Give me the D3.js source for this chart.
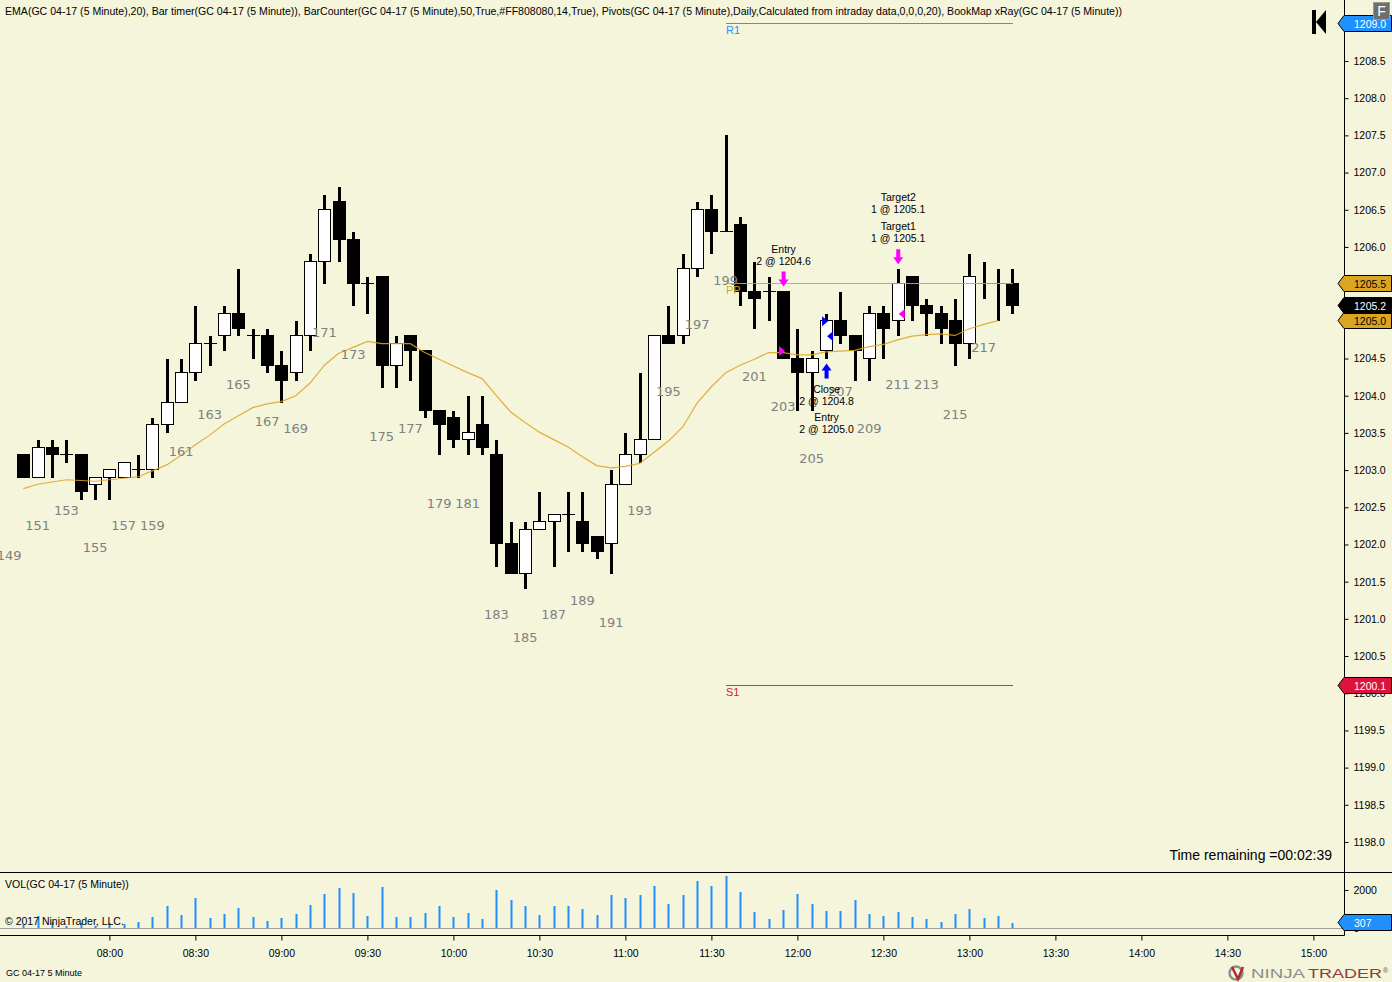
<!DOCTYPE html>
<html>
<head>
<meta charset="utf-8">
<title>GC 04-17 5 Minute</title>
<script src="https://cdn.jsdelivr.net/npm/d3@7/dist/d3.min.js"></script>
<style>
  html, body { margin: 0; padding: 0; background: #f5f5dc; overflow: hidden; }
  svg { display: block; }
  text { font-family: "Liberation Sans", Arial, sans-serif; fill: #000; }
</style>
</head>
<body>
<svg id="chart" width="1392" height="982"></svg>
<script>
(function () {
  'use strict';

  /* ── DATA ─────────────────────────────────────────────── */
  var firstBar = 150;   // bar counter of the first candle, 07:30
  var barOpen = [
    1203.2, 1202.9, 1203.3, 1203.2, 1203.2, 1202.8, 1202.9, 1202.9, 1203.0, 1203.0,
    1203.6, 1203.9, 1204.3, 1204.7, 1204.8, 1205.1, 1204.8, 1204.8, 1204.4, 1204.3,
    1204.8, 1205.8, 1206.6, 1206.1, 1205.5, 1205.6, 1204.4, 1204.8, 1204.6, 1203.8,
    1203.7, 1203.4, 1203.6, 1203.2, 1202.0, 1201.6, 1202.2, 1202.3, 1202.4, 1202.3,
    1202.1, 1202.0, 1202.8, 1203.2, 1203.4, 1204.8, 1204.8, 1205.7, 1206.5, 1206.2,
    1206.3, 1205.4, 1205.4, 1205.4, 1204.5, 1204.3, 1204.6, 1205.0, 1204.8, 1204.5,
    1205.1, 1205.0, 1205.6, 1205.2, 1205.1, 1205.0, 1204.7, 1205.5, 1205.5, 1205.5
  ];
  var barHigh = [
    1203.2, 1203.4, 1203.4, 1203.4, 1203.2, 1202.9, 1203.0, 1203.1, 1203.2, 1203.7,
    1204.5, 1204.5, 1205.2, 1204.8, 1205.2, 1205.7, 1204.9, 1204.9, 1204.6, 1205.0,
    1205.9, 1206.7, 1206.8, 1206.2, 1205.6, 1205.6, 1204.8, 1204.8, 1204.6, 1203.8,
    1203.8, 1204.0, 1204.0, 1203.4, 1202.3, 1202.3, 1202.7, 1202.4, 1202.7, 1202.7,
    1202.1, 1203.0, 1203.5, 1204.3, 1204.8, 1205.2, 1205.9, 1206.6, 1206.7, 1207.5,
    1206.4, 1205.8, 1205.6, 1205.4, 1204.9, 1204.6, 1205.1, 1205.4, 1204.8, 1205.2,
    1205.2, 1205.7, 1205.6, 1205.3, 1205.2, 1205.3, 1205.9, 1205.8, 1205.7, 1205.7
  ];
  var barLow = [
    1202.9, 1202.9, 1202.9, 1203.1, 1202.6, 1202.6, 1202.6, 1202.9, 1202.9, 1202.9,
    1203.5, 1203.9, 1204.2, 1204.4, 1204.6, 1204.8, 1204.5, 1204.3, 1203.9, 1204.2,
    1204.6, 1205.5, 1205.8, 1205.2, 1205.1, 1204.1, 1204.1, 1204.2, 1203.7, 1203.2,
    1203.3, 1203.2, 1203.2, 1201.7, 1201.6, 1201.4, 1202.2, 1201.7, 1201.9, 1201.9,
    1201.8, 1201.6, 1202.8, 1203.1, 1203.4, 1204.7, 1204.7, 1205.6, 1205.9, 1206.2,
    1205.2, 1204.9, 1205.0, 1204.5, 1203.8, 1203.8, 1204.5, 1204.7, 1204.2, 1204.2,
    1204.5, 1204.8, 1205.0, 1204.8, 1204.7, 1204.4, 1204.5, 1205.3, 1205.0, 1205.1
  ];
  var barClose = [
    1202.9, 1203.3, 1203.2, 1203.2, 1202.7, 1202.9, 1203.0, 1203.1, 1203.0, 1203.6,
    1203.9, 1204.3, 1204.7, 1204.7, 1205.1, 1204.9, 1204.8, 1204.4, 1204.2, 1204.8,
    1205.8, 1206.5, 1206.1, 1205.5, 1205.5, 1204.4, 1204.7, 1204.6, 1203.8, 1203.6,
    1203.4, 1203.5, 1203.3, 1202.0, 1201.6, 1202.2, 1202.3, 1202.4, 1202.4, 1202.0,
    1201.9, 1202.8, 1203.2, 1203.4, 1204.8, 1204.7, 1205.7, 1206.5, 1206.2, 1206.2,
    1205.4, 1205.3, 1205.4, 1204.5, 1204.3, 1204.5, 1205.0, 1204.8, 1204.6, 1205.1,
    1204.9, 1205.5, 1205.2, 1205.1, 1204.9, 1204.7, 1205.6, 1205.5, 1205.5, 1205.2
  ];
  // EMA(20), one value per bar, stops one bar before the forming one
  var emaValues = [
    1202.75, 1202.81, 1202.84, 1202.87, 1202.86, 1202.85, 1202.87, 1202.89, 1202.91, 1202.99,
    1203.07, 1203.20, 1203.34, 1203.47, 1203.62, 1203.73, 1203.84, 1203.89, 1203.92, 1204.00,
    1204.17, 1204.41, 1204.57, 1204.65, 1204.73, 1204.70, 1204.70, 1204.70, 1204.58, 1204.49,
    1204.40, 1204.31, 1204.23, 1204.00, 1203.78, 1203.64, 1203.51, 1203.41, 1203.31, 1203.18,
    1203.06, 1203.03, 1203.05, 1203.09, 1203.24, 1203.39, 1203.58, 1203.90, 1204.12, 1204.31,
    1204.41, 1204.49, 1204.58, 1204.58, 1204.55, 1204.55, 1204.59, 1204.60, 1204.61, 1204.66,
    1204.69, 1204.75, 1204.80, 1204.82, 1204.83, 1204.81, 1204.90, 1204.96, 1205.01
  ];
  var volumeValues = [
    174, 644, 348, 122, 261, 122, 261, 226, 331, 592,
    1166, 696, 1583, 539, 748, 1061, 592, 383, 539, 748,
    1218, 1792, 2105, 1844, 644, 2158, 592, 592, 800, 1166,
    592, 800, 487, 2001, 1479, 1166, 696, 1166, 1166, 1009,
    696, 1740, 1583, 1740, 2210, 1270, 1740, 2471, 2210, 2732,
    1897, 853, 487, 957, 1792, 1270, 905, 905, 1479, 748,
    644, 853, 592, 487, 331, 748, 1009, 539, 644, 307
  ];
  var priceTicks = [1198, 1198.5, 1199, 1199.5, 1200, 1200.5, 1201, 1201.5, 1202, 1202.5, 1203, 1203.5,
    1204, 1204.5, 1205, 1205.5, 1206, 1206.5, 1207, 1207.5, 1208, 1208.5, 1209];
  var volumeTicks = [0, 2000];

  // the counter of bar 149 is the only trace of the bar scrolled off the left edge
  var offscreenBar = 149;
  var offscreenLow = 1202.5;
  var lastCounter  = 217;

  var pivotPrices = [1209.0, 1205.5, 1200.1];
  var pivotNames  = ['R1', 'PP', 'S1'];
  var pivotColors = ['#1e90ff', '#daa520', '#dc143c'];

  var lastClose = 1205.2;
  var lastEma   = 1205.0;
  var lastVol   = 307;

  // executions: [bar, price, side, colour]
  var fillBars   = [203, 206, 206, 211];
  var fillPrices = [1204.6, 1205.0, 1204.8, 1205.1];
  var fillSides  = ['buy', 'buy', 'sell', 'sell'];
  var fillColors = ['#ff00ff', '#0000ff', '#0000ff', '#ff00ff'];

  // trade labels, stacked from the arrow outwards
  var tradeBars   = [203, 211, 206];
  var tradeDirs   = ['down', 'down', 'up'];
  var tradeColors = ['#ff00ff', '#ff00ff', '#0000ff'];
  var tradeTexts  = [
    ['Entry', '2 @ 1204.6'],
    ['Target2', '1 @ 1205.1', 'Target1', '1 @ 1205.1'],
    ['Close', '2 @ 1204.8', 'Entry', '2 @ 1205.0']
  ];

  var legendText = 'EMA(GC 04-17 (5 Minute),20), Bar timer(GC 04-17 (5 Minute)), BarCounter(GC 04-17 (5 Minute),50,True,#FF808080,14,True), Pivots(GC 04-17 (5 Minute),Daily,Calculated from intraday data,0,0,0,20), BookMap xRay(GC 04-17 (5 Minute))';

  /* ── SCALES ───────────────────────────────────────────── */
  var AXIS_X = 1344.5, VOL_TOP = 872.5, VOL_BOTTOM = 935.5;

  function barTime(bar) {
    return new Date(2017, 2, 1, 8, (bar - 156) * 5);
  }

  var x = d3.scaleTime()
    .domain([new Date(2017, 2, 1, 8, 0), new Date(2017, 2, 1, 15, 0)])
    .range([109.4, 1313.4]);
  var yPrice = d3.scaleLinear().domain([1198, 1209]).range([842, 23.8]);
  var yVol   = d3.scaleLinear().domain([0, 2000]).range([928.5, 890]);

  function barX(bar) { return Math.round(x(barTime(bar))); }

  var svg = d3.select('#chart');

  /* ── VOLUME PANEL ─────────────────────────────────────── */
  var bars = d3.range(barOpen.length).map(function (i) { return firstBar + i; });

  svg.append('g').selectAll('rect')
    .data(volumeValues)
    .enter().append('rect')
    .attr('x', function (d, i) { return barX(bars[i]) - 0.5; })
    .attr('width', 2)
    .attr('y', function (d) { return Math.round(yVol(d)); })
    .attr('height', function (d) { return Math.round(yVol(0)) - Math.round(yVol(d)); })
    .attr('fill', '#1e90ff');

  svg.append('line')
    .attr('x1', 0).attr('x2', AXIS_X)
    .attr('y1', 928.5).attr('y2', 928.5)
    .attr('stroke', '#a0a0a0');

  /* ── CANDLES ──────────────────────────────────────────── */
  var candles = svg.append('g').attr('shape-rendering', 'crispEdges');

  bars.forEach(function (bar, i) {
    var cx = barX(bar), o = barOpen[i], c = barClose[i];

    candles.append('rect')
      .attr('x', cx - 1).attr('width', 3)
      .attr('y', yPrice(barHigh[i]))
      .attr('height', yPrice(barLow[i]) - yPrice(barHigh[i]))
      .attr('fill', '#000');

    if (o === c) {
      candles.append('line')
        .attr('x1', cx - 6).attr('x2', cx + 7)
        .attr('y1', Math.round(yPrice(o)) - 0.5).attr('y2', Math.round(yPrice(o)) - 0.5)
        .attr('stroke', '#000');
    } else {
      var top = Math.round(yPrice(Math.max(o, c)));
      var bottom = Math.round(yPrice(Math.min(o, c)));
      candles.append('rect')
        .attr('x', cx - 5.5).attr('width', 12)
        .attr('y', top - 0.5).attr('height', bottom - top)
        .attr('fill', c > o ? '#fff' : '#000')
        .attr('stroke', '#000');
    }
  });

  /* ── EMA + PIVOTS ─────────────────────────────────────── */
  var emaLine = d3.line()
    .x(function (d, i) { return x(barTime(bars[i])); })
    .y(function (d) { return yPrice(d); });

  svg.append('path')
    .datum(emaValues)
    .attr('d', emaLine)
    .attr('fill', 'none')
    .attr('stroke', '#daa520')
    .attr('stroke-opacity', 0.85)
    .attr('stroke-width', 1.2);

  pivotPrices.forEach(function (p, i) {
    var py = Math.round(yPrice(p)) - 0.5;
    svg.append('line')
      .attr('x1', 726).attr('x2', 1013)
      .attr('y1', py).attr('y2', py)
      .attr('stroke', pivotColors[i])
      .attr('stroke-opacity', 0.9);
    svg.append('text')
      .attr('x', 726).attr('y', py + 10)
      .attr('font-size', 11)
      .style('fill', pivotColors[i])
      .text(pivotNames[i]);
  });

  /* ── BAR COUNTER ──────────────────────────────────────── */
  function addCounter(bar, low) {
    svg.append('text')
      .attr('x', x(barTime(bar)))
      .attr('y', yPrice(low) + 52.6)
      .attr('text-anchor', 'middle')
      .attr('font-size', 13)
      .style('font-family', '"DejaVu Sans", sans-serif')
      .style('fill', '#808080')
      .text(bar);
  }
  addCounter(offscreenBar, offscreenLow);
  bars.forEach(function (bar, i) {
    if (bar % 2 === 1 && bar <= lastCounter) addCounter(bar, barLow[i]);
  });

  /* ── EXECUTIONS ───────────────────────────────────────── */
  fillBars.forEach(function (bar, i) {
    var cx = x(barTime(bar)), fy = yPrice(fillPrices[i]);
    var pts = fillSides[i] === 'buy'
      ? [[cx - 4, fy - 5], [cx + 2, fy], [cx - 4, fy + 5]]
      : [[cx + 7, fy - 5], [cx + 1, fy], [cx + 7, fy + 5]];
    svg.append('polygon')
      .attr('points', pts.join(' '))
      .attr('fill', fillColors[i]);
  });

  tradeBars.forEach(function (bar, i) {
    var idx = bar - firstBar;
    var cx = x(barTime(bar)) + 0.5;
    var up = tradeDirs[i] === 'up';
    var tip = up ? yPrice(barLow[idx]) + 5 : yPrice(barHigh[idx]) - 5;
    var s = up ? 1 : -1;   // direction from the tip to the tail
    var head = tip + s * 7, tail = tip + s * 15;
    var pts = [[cx, tip], [cx + 5, head], [cx + 2, head], [cx + 2, tail],
               [cx - 2, tail], [cx - 2, head], [cx - 5, head]];
    svg.append('polygon')
      .attr('points', pts.join(' '))
      .attr('fill', tradeColors[i]);

    var lines = tradeTexts[i];
    lines.forEach(function (line, k) {
      // pairs of lines are 12px apart, pairs themselves 17px
      var dy = up
        ? 15 + 10 + 12 * k + 4 * Math.floor(k / 2)
        : -15 - 11 - 12 * (lines.length - 1 - k) - 5 * Math.floor((lines.length - 1 - k) / 2);
      svg.append('text')
        .attr('x', cx)
        .attr('y', tip + dy + 4)
        .attr('text-anchor', 'middle')
        .attr('font-size', 10.5)
        .text(line);
    });
  });

  /* ── AXES ─────────────────────────────────────────────── */
  var priceAxis = d3.axisRight(yPrice)
    .tickValues(priceTicks)
    .tickSize(4)
    .tickPadding(5)
    .tickFormat(d3.format('.1f'));
  var volAxis = d3.axisRight(yVol)
    .tickValues(volumeTicks)
    .tickSize(4)
    .tickPadding(5)
    .tickFormat(d3.format('d'));
  var timeAxis = d3.axisBottom(x)
    .ticks(d3.timeMinute.every(30))
    .tickSize(5)
    .tickPadding(9)
    .tickFormat(d3.timeFormat('%H:%M'));

  [
    svg.append('g').attr('transform', 'translate(' + AXIS_X + ',0)').call(priceAxis),
    svg.append('g').attr('transform', 'translate(' + AXIS_X + ',0)').call(volAxis),
    svg.append('g').attr('transform', 'translate(0,' + VOL_BOTTOM + ')').call(timeAxis)
  ].forEach(function (g) {
    g.select('.domain').remove();
    g.selectAll('text').attr('font-size', 10.5).style('font-family', '"Liberation Sans", Arial, sans-serif');
    g.selectAll('line').attr('stroke', '#000');
  });

  // panel frame
  svg.append('line').attr('x1', 0).attr('x2', 1392).attr('y1', VOL_TOP).attr('y2', VOL_TOP).attr('stroke', '#000');
  svg.append('line').attr('x1', 0).attr('x2', AXIS_X).attr('y1', VOL_BOTTOM).attr('y2', VOL_BOTTOM).attr('stroke', '#000');
  svg.append('line').attr('x1', AXIS_X).attr('x2', AXIS_X).attr('y1', 0).attr('y2', VOL_BOTTOM).attr('stroke', '#000');

  /* ── VALUE TAGS ON THE AXIS ───────────────────────────── */
  function addTag(tagY, label, fill, textFill) {
    var cy = Math.round(tagY) - 0.5;
    var pts = [[1338, cy], [1344, cy - 8], [1391.5, cy - 8], [1391.5, cy + 8], [1344, cy + 8]];
    svg.append('polygon')
      .attr('points', pts.join(' '))
      .attr('fill', fill)
      .attr('stroke', '#000');
    svg.append('text')
      .attr('x', 1354).attr('y', cy + 4)
      .attr('font-size', 10.5)
      .style('fill', textFill)
      .text(label);
  }
  var fmt = d3.format('.1f');
  addTag(yPrice(pivotPrices[0]), fmt(pivotPrices[0]), pivotColors[0], '#fff');
  addTag(yPrice(pivotPrices[1]), fmt(pivotPrices[1]), pivotColors[1], '#000');
  addTag(yPrice(lastEma), fmt(lastEma), pivotColors[1], '#000');
  addTag(yPrice(lastClose), fmt(lastClose), '#000', '#fff');
  addTag(yPrice(pivotPrices[2]), fmt(pivotPrices[2]), pivotColors[2], '#fff');
  addTag(yVol(lastVol), String(lastVol), '#1e90ff', '#fff');

  /* ── TEXTS & ICONS ────────────────────────────────────── */
  svg.append('text').attr('x', 5).attr('y', 15)
    .attr('font-size', 11).attr('textLength', 1117).attr('lengthAdjust', 'spacingAndGlyphs')
    .text(legendText);
  svg.append('text').attr('x', 5).attr('y', 888).attr('font-size', 10.5).text('VOL(GC 04-17 (5 Minute))');
  svg.append('text').attr('x', 5).attr('y', 925).attr('font-size', 10.5).text('\u00a9 2017 NinjaTrader, LLC.');
  svg.append('text').attr('x', 1332).attr('y', 860).attr('font-size', 14).attr('text-anchor', 'end').text('Time remaining =00:02:39');
  svg.append('text').attr('x', 6).attr('y', 976).attr('font-size', 9).text('GC 04-17 5 Minute');

  // "F" button
  svg.append('rect')
    .attr('x', 1373.5).attr('y', 2.5).attr('width', 16).attr('height', 17)
    .attr('fill', '#6e6e6e').attr('stroke', '#9a9a9a');
  svg.append('text').attr('x', 1381.5).attr('y', 16).attr('text-anchor', 'middle')
    .attr('font-size', 14).style('fill', '#fff').text('F');

  // go-to-end button
  svg.append('rect').attr('x', 1312).attr('y', 10).attr('width', 4).attr('height', 24).attr('fill', '#000');
  svg.append('polygon').attr('points', '1316,22 1326,10 1326,34').attr('fill', '#000');

  // logo
  svg.append('circle').attr('cx', 1236).attr('cy', 973).attr('r', 6.5)
    .attr('fill', 'none').attr('stroke', '#8e8e8e').attr('stroke-width', 2.5);
  svg.append('path').attr('d', 'M1232,967 L1238,979 L1243,967')
    .attr('fill', 'none').attr('stroke', '#b02a30').attr('stroke-width', 2.5);
  svg.append('text').attr('x', 1251).attr('y', 978).attr('font-size', 12.5)
    .attr('textLength', 54).attr('lengthAdjust', 'spacingAndGlyphs')
    .style('fill', '#8c8c8c').text('NINJA');
  svg.append('text').attr('x', 1308).attr('y', 978).attr('font-size', 12.5)
    .attr('textLength', 74).attr('lengthAdjust', 'spacingAndGlyphs')
    .style('fill', '#8e3b3e').text('TRADER');
  svg.append('text').attr('x', 1383).attr('y', 973).attr('font-size', 7).style('fill', '#8e3b3e').text('\u00ae');
})();
</script>
</body>
</html>
